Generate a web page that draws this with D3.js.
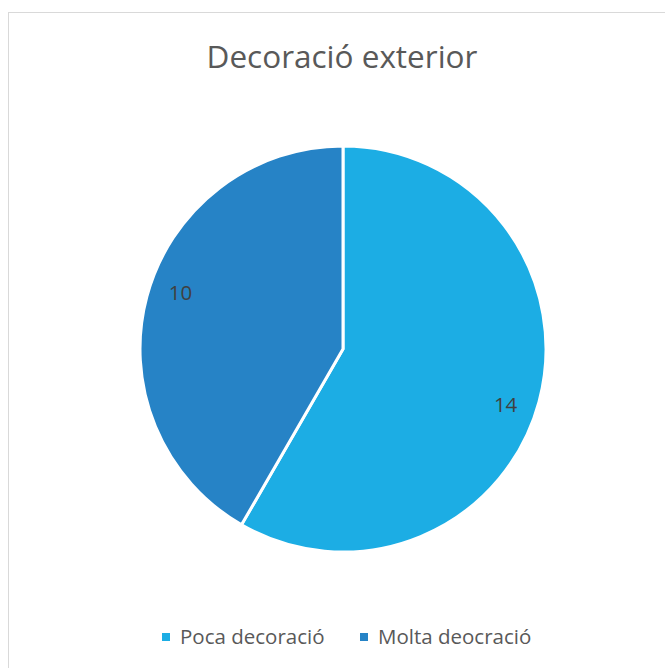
<!DOCTYPE html>
<html>
<head>
<meta charset="utf-8">
<script src="https://cdn.jsdelivr.net/npm/d3@7"></script>
<style>
  body { margin: 0; background: #fff; }
  text { font-family: "Open Sans", "Liberation Sans", sans-serif; }
</style>
</head>
<body>
<div id="chart"></div>
<script>
// Pie chart - Decoració exterior

const categories = ["Poca decoració", "Molta deocració"];
const values = [14, 10];
const colors = ["#1CADE4", "#2683C6"];
const title = "Decoració exterior";

const width = 665, height = 668;
const cx = 343, cy = 349, radius = 203;

const svg = d3.select("#chart")
  .append("svg")
  .attr("width", width)
  .attr("height", height);

// Chart area border (only top/left visible in frame)
svg.append("rect")
  .attr("x", 8.5)
  .attr("y", 12.5)
  .attr("width", 700)
  .attr("height", 700)
  .attr("fill", "#fff")
  .attr("stroke", "#d9d9d9")
  .attr("stroke-width", 1);

// Title
svg.append("text")
  .attr("x", 342)
  .attr("y", 68)
  .attr("text-anchor", "middle")
  .attr("font-size", "31.5px")
  .attr("fill", "#595959")
  .text(title);

const color = d3.scaleOrdinal().domain(categories).range(colors);

const pie = d3.pie()
  .sort(null)
  .value(d => d.value);

const data = categories.map((c, i) => ({ name: c, value: values[i] }));
const arcs = pie(data);

const arc = d3.arc().innerRadius(0).outerRadius(radius);

const g = svg.append("g")
  .attr("transform", "translate(" + cx + "," + cy + ")");

g.selectAll("path.slice")
  .data(arcs)
  .enter()
  .append("path")
  .attr("class", "slice")
  .attr("d", arc)
  .attr("fill", d => color(d.data.name))
  .attr("stroke", "#fff")
  .attr("stroke-width", 3)
  .attr("stroke-linejoin", "round");

// Data labels
const labelR = 172;
const shift = 4 * Math.PI / 180;
g.selectAll("text.label")
  .data(arcs)
  .enter()
  .append("text")
  .attr("class", "label")
  .attr("x", d => labelR * Math.sin((d.startAngle + d.endAngle) / 2 + shift))
  .attr("y", d => -labelR * Math.cos((d.startAngle + d.endAngle) / 2 + shift))
  .attr("dy", "0.35em")
  .attr("text-anchor", "middle")
  .attr("font-size", "20.5px")
  .attr("fill", "#404040")
  .text(d => d.data.value);

// Legend
const legendX = [162, 360];
const legend = svg.append("g").attr("transform", "translate(0,637)");

const items = legend.selectAll("g.item")
  .data(categories)
  .enter()
  .append("g")
  .attr("class", "item")
  .attr("transform", (d, i) => "translate(" + legendX[i] + ",0)");

items.append("rect")
  .attr("x", 0)
  .attr("y", -4)
  .attr("width", 8)
  .attr("height", 8)
  .attr("fill", d => color(d));

items.append("text")
  .attr("x", 18)
  .attr("y", 0)
  .attr("dy", "0.35em")
  .attr("font-size", "20.5px")
  .attr("fill", "#595959")
  .text(d => d);
</script>
</body>
</html>
